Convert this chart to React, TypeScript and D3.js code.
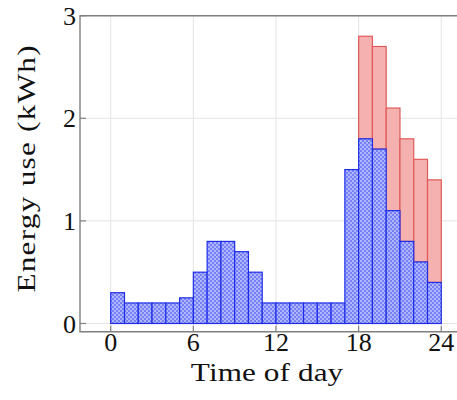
import * as d3 from "d3";
import React from "react";

const W = 457;
const H = 400;

// hourly energy use, one bar per hour starting at the given hour
const hours = [0, 1, 2, 3, 4, 5, 6, 7, 8, 9, 10, 11, 12, 13, 14, 15, 16, 17, 18, 19, 20, 21, 22, 23];
const baseUse = [0.3, 0.2, 0.2, 0.2, 0.2, 0.25, 0.5, 0.8, 0.8, 0.7, 0.5, 0.2, 0.2, 0.2, 0.2, 0.2, 0.2, 1.5, 1.8, 1.7, 1.1, 0.8, 0.6, 0.4];
const extraUse = [0, 0, 0, 0, 0, 0, 0, 0, 0, 0, 0, 0, 0, 0, 0, 0, 0, 0, 1, 1, 1, 1, 1, 1];

const xTicks = [0, 6, 12, 18, 24];
const yTicks = [0, 1, 2, 3];

const font = "'Liberation Serif', 'Times New Roman', serif";

const x = d3.scaleLinear().domain([-2.23, 26.23]).range([80, 472]);
const y = d3.scaleLinear().domain([-0.08, 3]).range([331.7, 15.7]);

export default function App() {
  const [x0] = x.range();
  const [yb, yt] = y.range();

  return (
    <svg width={W} height={H} style={{ position: "absolute", left: 0, top: 0, background: "#fff" }}>
      <defs>
        <pattern id="dots" width={4} height={4} patternUnits="userSpaceOnUse">
          <rect width={4} height={4} fill="#7680f8" />
          <circle cx={1} cy={1} r={1} fill="#c4c9ff" />
          <circle cx={3} cy={3} r={1} fill="#c4c9ff" />
        </pattern>
        <clipPath id="plot">
          <rect x={x0} y={yt} width={W - x0} height={yb - yt} />
        </clipPath>
      </defs>

      {/* grid */}
      <g stroke="#e4e4e4" strokeWidth={1}>
        {xTicks.map((t) => (
          <line key={"gx" + t} x1={x(t)} x2={x(t)} y1={yt} y2={yb} />
        ))}
        {yTicks.map((t) => (
          <line key={"gy" + t} x1={x0} x2={W} y1={y(t)} y2={y(t)} />
        ))}
      </g>

      {/* bars */}
      <g clipPath="url(#plot)">
        {hours.map((h, i) =>
          extraUse[i] > 0 ? (
            <rect
              key={"r" + h}
              x={x(h)}
              y={y(baseUse[i] + extraUse[i])}
              width={x(h + 1) - x(h)}
              height={y(baseUse[i]) - y(baseUse[i] + extraUse[i])}
              fill="#f5b0b0"
              stroke="#e05a5a"
              strokeWidth={1.2}
            />
          ) : null
        )}
        {hours.map((h, i) => (
          <rect
            key={"b" + h}
            x={x(h)}
            y={y(baseUse[i])}
            width={x(h + 1) - x(h)}
            height={y(0) - y(baseUse[i])}
            fill="url(#dots)"
            stroke="#1f2ee6"
            strokeWidth={1.2}
          />
        ))}
      </g>

      {/* ticks */}
      <g stroke="#808080" strokeWidth={1.2}>
        {yTicks.map((t) => (
          <line key={"ty" + t} x1={x0} x2={x0 + 6} y1={y(t)} y2={y(t)} />
        ))}
        {xTicks.map((t) => (
          <line key={"tx" + t} x1={x(t)} x2={x(t)} y1={yb} y2={yb - 6} />
        ))}
      </g>

      {/* axis box, open on the right */}
      <path
        d={`M${W + 5},${yt}H${x0}V${yb}H${W + 5}`}
        fill="none"
        stroke="#7f7f7f"
        strokeWidth={1.4}
      />

      {/* tick labels */}
      <g fontFamily={font} fontSize={26} fill="#111">
        {yTicks.map((t) => (
          <text key={"ly" + t} x={76} y={y(t)} dy="0.35em" textAnchor="end">
            {t}
          </text>
        ))}
        {xTicks.map((t) => (
          <text key={"lx" + t} x={x(t)} y={351} textAnchor="middle">
            {t}
          </text>
        ))}
      </g>

      {/* axis titles, stretched a little to get the wide look of the original face */}
      <text
        transform="translate(267,381) scale(1.2,1)"
        textAnchor="middle"
        fontFamily={font}
        fontSize={26}
        fill="#111"
        textLength={127}
        lengthAdjust="spacing"
      >
        Time of day
      </text>
      <text
        transform="translate(35,169) rotate(-90) scale(1.2,1)"
        textAnchor="middle"
        fontFamily={font}
        fontSize={26}
        fill="#111"
        textLength={206}
        lengthAdjust="spacing"
      >
        Energy use (kWh)
      </text>
    </svg>
  );
}
